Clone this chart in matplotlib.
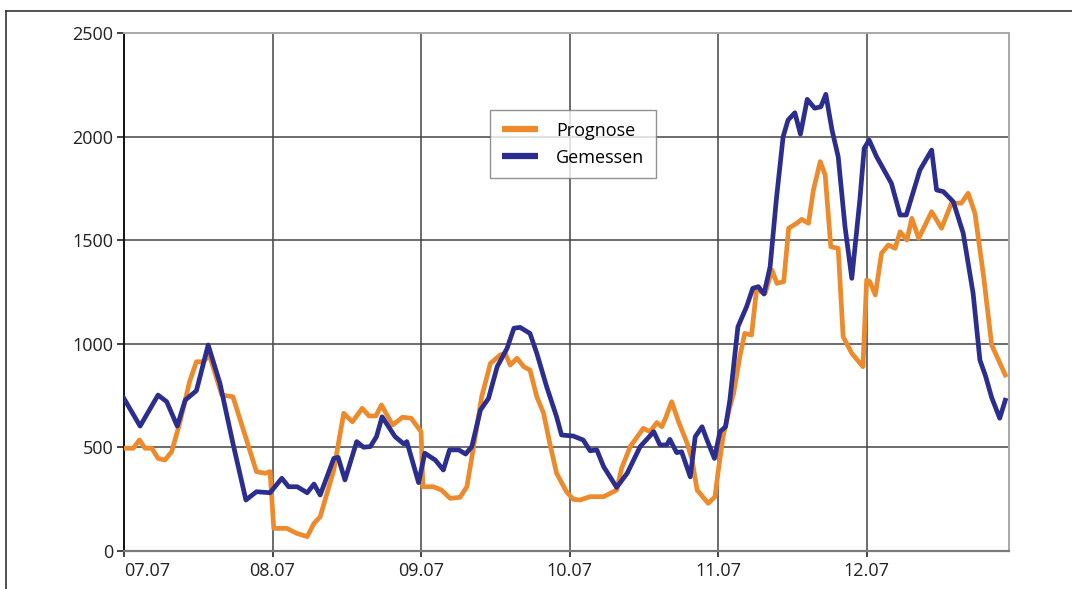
import matplotlib
matplotlib.use('Agg')
import matplotlib.pyplot as plt
from matplotlib.lines import Line2D

plt.rcParams['font.family'] = ['Open Sans', 'DejaVu Sans']

# Gemessen (blau) - Stunden ab 07.07 00:00 und Werte
gem_h = [0.0, 2.6, 5.5, 6.9, 8.6, 9.9, 11.7, 13.6, 15.5, 17.6, 19.7, 21.4, 23.6,
         25.5, 26.6, 28.0, 29.6, 30.7, 31.7, 33.9, 34.6, 35.7, 37.6, 38.7, 39.8,
         40.8, 41.7, 43.8, 45.2, 45.7, 47.6, 48.6, 50.3, 51.6, 52.6, 54.1, 55.2,
         56.2, 57.6, 58.9, 60.3, 61.9, 63.0, 64.0, 65.6, 66.7, 68.3, 69.9, 70.7,
         72.6, 74.2, 75.3, 76.4, 77.5, 79.6, 81.3, 83.4, 85.6, 86.6, 87.7, 88.2,
         89.3, 90.1, 91.5, 92.3, 93.4, 94.2, 95.4, 96.3, 97.2, 97.9, 99.2, 100.6,
         101.6, 102.5, 103.4, 104.4, 105.4, 106.5, 107.3, 108.4, 109.3, 110.4,
         111.6, 112.6, 113.4, 114.4, 115.4, 116.5, 117.6, 118.9, 119.6, 120.4,
         121.6, 124.0, 125.4, 126.4, 128.6, 130.5, 131.3, 132.4, 134.0, 135.6,
         137.2, 138.3, 139.2, 140.2, 141.5, 142.4]
gem_v = [735, 602, 752, 720, 602, 728, 773, 994, 809, 519, 245, 285, 280,
         350, 309, 309, 280, 322, 269, 446, 451, 342, 527, 500, 503,
         551, 647, 551, 516, 527, 329, 471, 438, 390, 487, 487, 467,
         503, 680, 736, 889, 978, 1075, 1079, 1050, 954, 792, 647, 559,
         554, 535, 483, 487, 406, 306, 374, 503, 575, 511, 511, 538,
         474, 478, 357, 551, 599, 535, 446, 575, 599, 728, 1082, 1179,
         1268, 1276, 1240, 1372, 1695, 2000, 2081, 2116, 2013, 2181,
         2138, 2145, 2205, 2033, 1904, 1566, 1316, 1695, 1944, 1984,
         1904, 1775, 1622, 1622, 1839, 1936, 1743, 1735, 1686, 1534,
         1244, 921, 845, 740, 640, 727]

# Prognose (orange)
prog_h = [0.0, 1.5, 2.5, 3.4, 4.5, 5.5, 6.6, 7.7, 9.0, 10.6, 11.7, 12.8, 13.8,
          15.8, 17.6, 19.8, 21.4, 22.8, 23.6, 24.2, 26.3, 27.9, 29.6, 30.7,
          31.7, 33.9, 35.5, 36.9, 38.5, 39.6, 40.7, 41.6, 43.4, 45.0, 46.4,
          48.0, 48.3, 50.0, 51.3, 52.7, 54.3, 55.4, 56.4, 57.8, 59.2, 60.8,
          61.6, 62.4, 63.5, 64.6, 65.6, 66.7, 67.8, 68.8, 69.9, 71.5, 72.6,
          73.7, 75.3, 77.5, 79.6, 80.4, 81.8, 83.9, 85.0, 86.1, 86.9, 87.5,
          88.5, 89.6, 91.0, 91.8, 92.6, 94.4, 95.5, 96.0, 96.8, 97.9, 98.5,
          99.5, 100.3, 101.4, 102.2, 103.6, 104.7, 105.5, 106.6, 107.4, 108.7,
          109.5, 110.6, 111.4, 112.5, 113.3, 114.2, 115.4, 116.2, 117.6, 119.4,
          120.0, 120.5, 121.4, 122.4, 123.5, 124.6, 125.4, 126.5, 127.3, 128.4,
          130.5, 132.1, 133.7, 135.3, 136.4, 137.5, 138.9, 140.2, 142.4]
prog_v = [495, 495, 535, 495, 495, 446, 438, 478, 616, 817, 913, 913, 946,
          752, 744, 535, 382, 374, 382, 108, 108, 84, 68, 132,
          164, 390, 664, 623, 688, 651, 651, 704, 607, 645, 640,
          575, 309, 309, 293, 253, 258, 309, 487, 744, 905, 946,
          954, 897, 930, 889, 873, 744, 664, 519, 374, 285, 248,
          245, 261, 261, 293, 398, 503, 591, 575, 619, 599, 640,
          720, 623, 519, 438, 293, 229, 261, 382, 551, 696, 760,
          937, 1050, 1042, 1260, 1244, 1356, 1292, 1300, 1558, 1582,
          1601, 1582, 1743, 1880, 1815, 1469, 1461, 1034, 954, 889,
          1308, 1300, 1236, 1437, 1477, 1461, 1541, 1501, 1606, 1509,
          1638, 1558, 1679, 1679, 1727, 1630, 1324, 994, 849]

day_ticks = [0, 24, 48, 72, 96, 120]
day_labels = ['07.07', '08.07', '09.07', '10.07', '11.07', '12.07']
y_ticks = [0, 500, 1000, 1500, 2000, 2500]

ORANGE = '#EC8A2C'
BLUE = '#2B2E8E'

fig = plt.figure(figsize=(10.72, 5.89), dpi=100)
ax = fig.add_axes([124 / 1072, 38.3 / 589, 885 / 1072, 517.4 / 589])

ax.plot(prog_h, prog_v, color=ORANGE, linewidth=3.4, label='Prognose',
        solid_joinstyle='round', zorder=3)
ax.plot(gem_h, gem_v, color=BLUE, linewidth=3.4, label='Gemessen',
        solid_joinstyle='round', zorder=4)

ax.set_xlim(0, 143)
ax.set_ylim(0, 2500)
ax.set_xticks(day_ticks)
ax.set_xticklabels(day_labels)
ax.set_yticks(y_ticks)
ax.tick_params(axis='both', labelsize=13, colors='#222222', direction='out')
ax.tick_params(axis='y', length=5, width=1.2, pad=2.5)
ax.tick_params(axis='x', length=4.5, width=1.2, pad=3.5)
ax.get_xticklabels()[0].set_horizontalalignment('left')

# Gitter
for h in day_ticks[1:]:
    ax.axvline(h, color='#444444', linewidth=1.1, zorder=1)
for v in y_ticks[1:-1]:
    ax.axhline(v, color='#444444', linewidth=1.1, zorder=1)

ax.spines['left'].set_color('#111111')
ax.spines['left'].set_linewidth(1.4)
ax.spines['bottom'].set_color('#7a7a7a')
ax.spines['bottom'].set_linewidth(1.6)
ax.spines['top'].set_color('#a8a8a8')
ax.spines['top'].set_linewidth(1.4)
ax.spines['right'].set_color('#a8a8a8')
ax.spines['right'].set_linewidth(1.4)

leg = ax.legend(loc='upper left', bbox_to_anchor=(0.4136, 0.852), borderaxespad=0,
                fontsize=13, frameon=True, fancybox=False, handlelength=2.0,
                handletextpad=1.0, borderpad=0.65, labelspacing=0.5)
leg.get_frame().set_edgecolor('#777777')
leg.get_frame().set_linewidth(1.0)
for line in leg.get_lines():
    line.set_linewidth(4.5)
    line.set_solid_capstyle('butt')

# Rahmen um die Abbildung (oben und links)
fig.add_artist(Line2D([6 / 1072, 1.0], [1 - 11 / 589, 1 - 11 / 589],
                      transform=fig.transFigure, color='#333333', linewidth=1.2))
fig.add_artist(Line2D([6 / 1072, 6 / 1072], [0.0, 1 - 11 / 589],
                      transform=fig.transFigure, color='#333333', linewidth=1.2))

fig.savefig('out.png', dpi=100)
